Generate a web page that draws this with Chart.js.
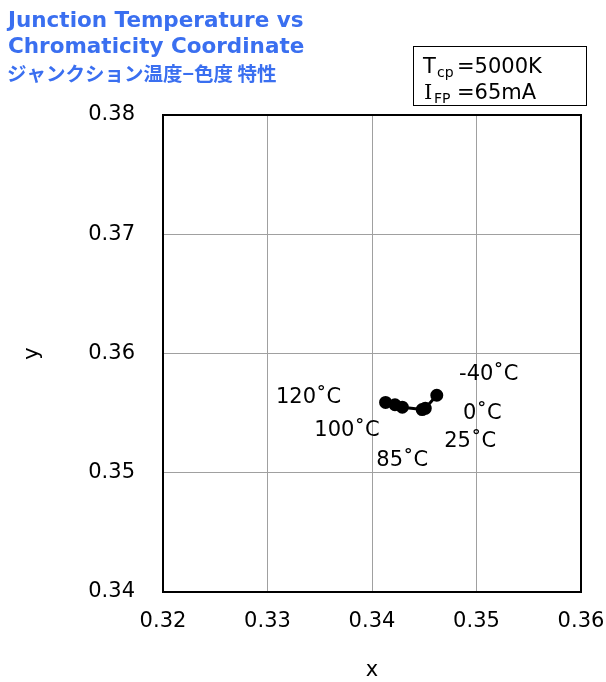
<!DOCTYPE html>
<html><head><meta charset="utf-8">
<script src="https://cdn.jsdelivr.net/npm/chart.js@4/dist/chart.umd.min.js"></script>
<style>html,body{margin:0;padding:0;background:#fff}#wrap{width:606px;height:682px;position:relative}</style>
</head><body><div id="wrap"><canvas id="c" width="606" height="682"></canvas></div>
<script>
const temperatures = ["-40˚C","0˚C","25˚C","85˚C","100˚C","120˚C"];
const xValues = [0.3462, 0.3451, 0.3448, 0.3429, 0.3422, 0.3413];
const yValues = [0.3565, 0.3554, 0.3553, 0.3555, 0.3557, 0.3559];
const xTicks = [0.32, 0.33, 0.34, 0.35, 0.36];
const yTicks = [0.34, 0.35, 0.36, 0.37, 0.38];
const titleLines = ["Junction Temperature vs", "Chromaticity Coordinate", "ジャンクション温度−色度 特性"];

// label offsets (px) relative to each point
const labelOffsets = [[52,-21],[57,5],[48,32],[0,53],[-48,26],[-77,-5]];
const FONT = "DejaVu Sans, Verdana, sans-serif";

const overlay = {
  id: 'overlay',
  afterDraw(chart) {
    const ctx = chart.ctx, xs = chart.scales.x, ys = chart.scales.y, a = chart.chartArea;
    ctx.save();
    // frame
    ctx.strokeStyle = '#000'; ctx.lineWidth = 2;
    ctx.strokeRect(a.left, a.top, a.right - a.left, a.bottom - a.top);
    // title
    ctx.fillStyle = '#3a6ff0';
    ctx.textBaseline = 'middle'; ctx.textAlign = 'left';
    ctx.font = 'bold 21.5px ' + FONT;
    ctx.fillText(titleLines[0], 8, 21);
    ctx.fillText(titleLines[1], 8, 47);
    ctx.font = 'bold 19.5px "Noto Sans CJK JP", sans-serif';
    ctx.fillText(titleLines[2], 7, 74);
    // info box
    ctx.strokeStyle = '#000'; ctx.lineWidth = 1;
    ctx.strokeRect(413.5, 46.5, 173, 59);
    ctx.fillStyle = '#000';
    ctx.textBaseline = 'alphabetic';
    ctx.font = '21px ' + FONT;
    ctx.fillText('T', 423, 73);
    ctx.font = '14px ' + FONT; ctx.fillText('cp', 437, 77);
    ctx.font = '21px ' + FONT; ctx.fillText('=5000K', 457, 73);
    ctx.font = '21px "DejaVu Serif", serif'; ctx.fillText('I', 424, 99);
    ctx.font = '14px ' + FONT; ctx.fillText('FP', 434, 103);
    ctx.font = '21px ' + FONT; ctx.fillText('=65mA', 457, 99);
    // point labels
    ctx.textBaseline = 'middle';
    ctx.font = '21px ' + FONT; ctx.textAlign = 'center';
    temperatures.forEach((t, i) => {
      const px = xs.getPixelForValue(xValues[i]) + labelOffsets[i][0];
      const py = ys.getPixelForValue(yValues[i]) + labelOffsets[i][1];
      ctx.fillText(t, px, py);
    });
    // axis titles
    ctx.fillText('x', (a.left + a.right) / 2, 671);
    ctx.save();
    ctx.translate(33, (a.top + a.bottom) / 2);
    ctx.rotate(-Math.PI / 2);
    ctx.fillText('y', 0, 0);
    ctx.restore();
    ctx.restore();
  }
};

new Chart(document.getElementById('c'), {
  type: 'scatter',
  data: { datasets: [{
    data: xValues.map((x, i) => ({x, y: yValues[i]})),
    showLine: true, borderColor: '#000', backgroundColor: '#000',
    borderWidth: 3, pointRadius: 5, pointHoverRadius: 5
  }]},
  options: {
    responsive: false, animation: false,
    layout: { padding: { top: 115, right: 25, left: 0, bottom: 0 } },
    plugins: { legend: { display: false }, tooltip: { enabled: false } },
    scales: {
      x: {
        type: 'linear', min: 0.32, max: 0.36,
        afterBuildTicks: s => { s.ticks = xTicks.map(v => ({value: v})); },
        afterFit: s => { s.height = 90; s.paddingLeft = 0; s.paddingRight = 0; },
        grid: { color: '#a0a0a0', lineWidth: 1, drawTicks: false },
        border: { display: false },
        ticks: { padding: 17, color: '#000', font: { family: FONT, size: 21 }, callback: v => v.toFixed(2), maxRotation: 0 }
      },
      y: {
        type: 'linear', min: 0.34, max: 0.38,
        afterBuildTicks: s => { s.ticks = yTicks.map(v => ({value: v})); },
        afterFit: s => { s.width = 163; s.paddingTop = 0; s.paddingBottom = 0; },
        grid: { color: '#a0a0a0', lineWidth: 1, drawTicks: false },
        border: { display: false },
        ticks: { padding: 28, color: '#000', font: { family: FONT, size: 21 }, callback: v => v.toFixed(2) }
      }
    }
  },
  plugins: [overlay]
});
</script></body></html>
